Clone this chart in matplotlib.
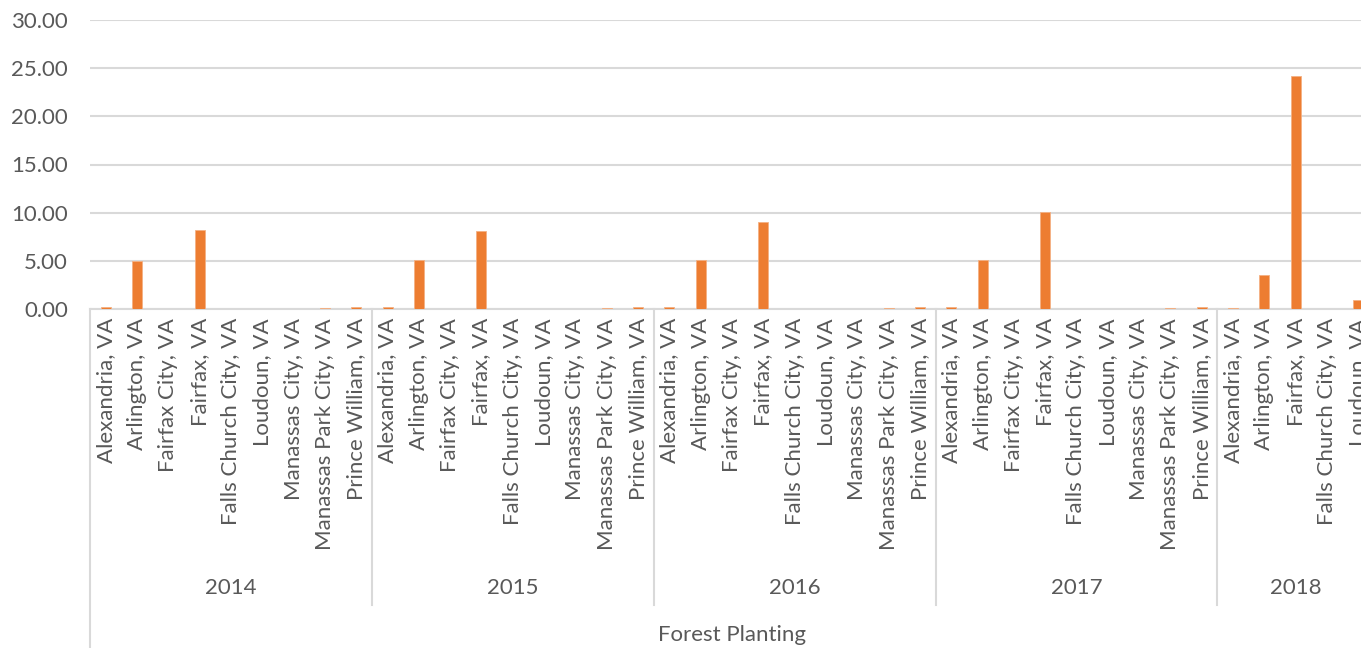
import matplotlib
matplotlib.use("Agg")
import matplotlib.pyplot as plt
from matplotlib.lines import Line2D
from matplotlib.transforms import blended_transform_factory

plt.rcParams['font.family'] = ['Lato', 'DejaVu Sans']

series_name = "Forest Planting"
years = ["2014", "2015", "2016", "2017", "2018"]
counties = ["Alexandria, VA", "Arlington, VA", "Fairfax City, VA", "Fairfax, VA",
            "Falls Church City, VA", "Loudoun, VA", "Manassas City, VA",
            "Manassas Park City, VA", "Prince William, VA"]
counties_2018 = counties[:2] + counties[3:6]  # visible part of 2018 group

values_2014 = [0.24, 5.02, 0.0, 8.20, 0.0, 0.0, 0.01, 0.06, 0.20]
values_2015 = [0.24, 5.05, 0.0, 8.10, 0.0, 0.0, 0.01, 0.06, 0.20]
values_2016 = [0.24, 5.05, 0.0, 9.00, 0.0, 0.0, 0.01, 0.06, 0.20]
values_2017 = [0.24, 5.08, 0.0, 10.10, 0.0, 0.0, 0.01, 0.06, 0.20]
values_2018 = [0.06, 3.50, 24.20, 0.0, 0.93]

groups = [(years[0], counties, values_2014),
          (years[1], counties, values_2015),
          (years[2], counties, values_2016),
          (years[3], counties, values_2017),
          (years[4], counties_2018, values_2018)]

W, H = 1361, 648
fig = plt.figure(figsize=(W / 100, H / 100), dpi=100)
left, right, bottom, top = 90 / W, 1374 / W, 1 - 309 / H, 1 - 20 / H
ax = fig.add_axes([left, bottom, right - left, top - bottom])

orange = "#ED7D31"
text_c = "#595959"
grid_c = "#D9D9D9"
fs = 16

labels, vals, bounds, centers = [], [], [0], []
for yr, cats, v in groups:
    start = len(labels)
    labels += cats
    vals += v
    bounds.append(len(labels))
    centers.append((yr, (start + len(labels)) / 2))

xs = [i + 0.5 for i in range(len(labels))]
ax.bar(xs, vals, width=0.32, color=orange, edgecolor="#F4B183", linewidth=0.6, zorder=3)

ax.set_xlim(0, len(labels))
ax.set_ylim(0, 30)
ax.set_yticks(range(0, 31, 5))
ax.set_yticklabels([f"{t:.2f}" for t in range(0, 31, 5)], fontsize=fs, color=text_c)
ax.tick_params(axis='y', length=0, pad=16)
ax.set_xticks([])
ax.yaxis.grid(True, color=grid_c, linewidth=1.5, zorder=0)
for s in ["top", "right", "left"]:
    ax.spines[s].set_visible(False)
ax.spines["bottom"].set_color(grid_c)
ax.spines["bottom"].set_linewidth(1.5)

tr = blended_transform_factory(ax.transData, fig.transFigure)
for x, lab in zip(xs, labels):
    ax.text(x, 1 - 318 / H, lab, rotation=90, ha="center", va="top",
            fontsize=fs, color=text_c, transform=tr, clip_on=False)
for yr, c in centers:
    ax.text(c, 1 - 588 / H, yr, ha="center", va="center", fontsize=fs,
            color=text_c, transform=tr, clip_on=False)
ax.text(len(labels) / 2, 1 - 635 / H, series_name, ha="center", va="center",
        fontsize=fs, color=text_c, transform=tr, clip_on=False)

fig.add_artist(Line2D([0, 0], [bottom, 0], transform=tr, color=grid_c, linewidth=1.5))
for b in bounds[1:-1]:
    fig.add_artist(Line2D([b, b], [bottom, 1 - 605 / H], transform=tr, color=grid_c, linewidth=1.5))

fig.savefig("out.png", dpi=100, facecolor="white")
